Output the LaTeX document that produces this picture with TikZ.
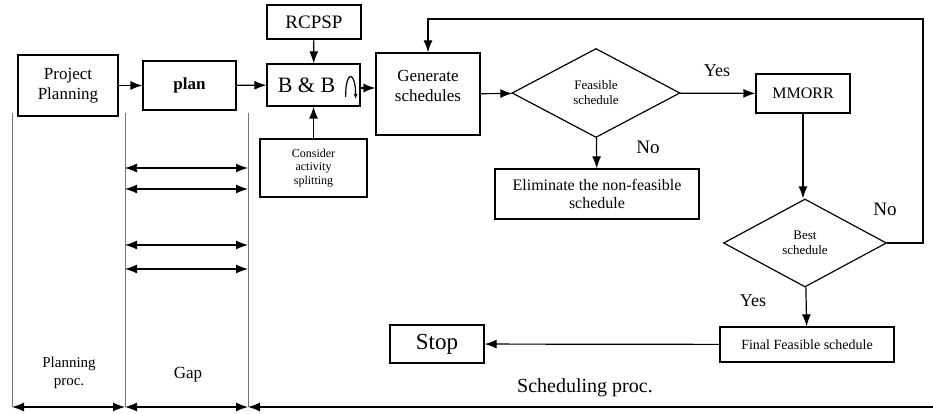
\documentclass[tikz,border=0pt]{standalone}
\usepackage{fontspec}
\setmainfont{Liberation Serif}
\setsansfont{Liberation Serif}
\usetikzlibrary{shapes.geometric,arrows.meta}

\newcommand{\fs}[1]{\fontsize{#1}{\the\dimexpr #1pt*115/100\relax}\selectfont}

\begin{document}
\begin{tikzpicture}[x=1pt,y=-1pt]
			\tikzstyle{box}=[draw, line width=1.2pt, inner sep=0pt, align=center]
			\tikzstyle{decision}=[diamond, draw, line width=1.2pt, inner sep=0pt, align=center]
			\tikzstyle{guide}=[draw=black!55, line width=0.8pt]
			\tikzstyle{value}=[align=center]
			\tikzset{edge/.style = {-{Latex[length=12pt,width=9pt]}, line width=1.2pt}}
			\tikzset{span/.style = {{Latex[length=12pt,width=9pt]}-{Latex[length=12pt,width=9pt]}, line width=1.2pt}}
			
			\useasboundingbox (0,0) rectangle (933,414);
			
			\node[box, minimum width=100pt, minimum height=61pt, font=\rmfamily\fs{17}](pp) at (68,85.5) {Project\\Planning};
			\node[box, minimum width=93pt, minimum height=49pt, font=\rmfamily\fs{17}\bfseries](plan) at (189.5,85.5) {plan};
			\node[box, minimum width=93pt, minimum height=42pt, font=\rmfamily\fs{22}](bb) at (313.5,85) {B \& B\hspace{14pt}};
			\node[box, minimum width=94pt, minimum height=34pt, font=\rmfamily\fs{19}](rcpsp) at (314,22) {RCPSP};
			\node[box, minimum width=107pt, minimum height=58pt, font=\rmfamily\fs{12}](split) at (313.5,168) {Consider\\activity\\splitting};
			\node[box, minimum width=104pt, minimum height=82pt, label={[value, font=\rmfamily\fs{17}, yshift=8pt]center:{Generate\\schedules}}](gen) at (428,94) {};
			\node[decision, minimum width=168pt, minimum height=89pt, font=\rmfamily\fs{13}](feas) at (596,93) {Feasible\\schedule};
			\node[box, minimum width=94pt, minimum height=39pt, font=\rmfamily\fs{16}](mmorr) at (803,93.5) {MMORR};
			\node[box, minimum width=204pt, minimum height=50pt, font=\rmfamily\fs{16}](elim) at (597,194) {Eliminate the non-feasible\\schedule};
			\node[decision, minimum width=163pt, minimum height=88pt, font=\rmfamily\fs{13}](best) at (805,243) {Best\\schedule};
			\node[box, minimum width=174pt, minimum height=35pt, font=\rmfamily\fs{14}](final) at (807,344.5) {Final Feasible schedule};
			\node[box, minimum width=94pt, minimum height=38pt, font=\rmfamily\fs{23}](stop) at (437,344) {Stop};
			
			\node[value, font=\rmfamily\fs{18}](yes1) at (717,71) {Yes};
			\node[value, font=\rmfamily\fs{19}](no1) at (648,147) {No};
			\node[value, font=\rmfamily\fs{19}](no2) at (885,209) {No};
			\node[value, font=\rmfamily\fs{18}](yes2) at (753,301) {Yes};
			\node[value, font=\rmfamily\fs{20}](sched) at (585,388) {Scheduling proc.};
			\node[value, font=\rmfamily\fs{15}](planproc) at (69,373) {Planning\\proc.};
			\node[value, font=\rmfamily\fs{17}](gap) at (188,375) {Gap};
			
			\coordinate (loopR) at (923,19);
			\coordinate (endR) at (933,407);
			
			\draw[edge] (pp) to (plan);
			\draw[edge] (plan) to (bb);
			\draw[edge] (rcpsp) to (bb);
			\draw[edge] (split) to (bb);
			\draw[edge] ([yshift=-3pt]bb.east) -- ([yshift=-3pt]bb.east -| gen.west);
			\draw[-{Latex[length=5pt,width=4pt]}, line width=1.2pt] (bb.east) ++(-15,12) .. controls +(0,-28) and +(0,-28) .. ++(10,2);
			\draw[edge] (gen) to (feas);
			\draw[edge] (feas) to (mmorr);
			\draw[edge] (feas) to (elim);
			\draw[edge] (mmorr.south) -- (mmorr.south |- best.north);
			\draw[edge] (best.east) -| (loopR) -| (gen.north);
			\draw[edge] (best) to (final);
			\draw[edge] (final) to (stop);
			
			% time axis
			\foreach \x in {12,125,248}
				\draw[guide] (\x,113) -- (\x,407);
			\draw[span] (12,407) -- (125,407);
			\draw[span] (125,407) -- (248,407);
			\draw[edge] (endR) -- (248,407);
			\foreach \y in {168,189,245,269}
				\draw[span] (125,\y) -- (248,\y);
\end{tikzpicture}
\end{document}
